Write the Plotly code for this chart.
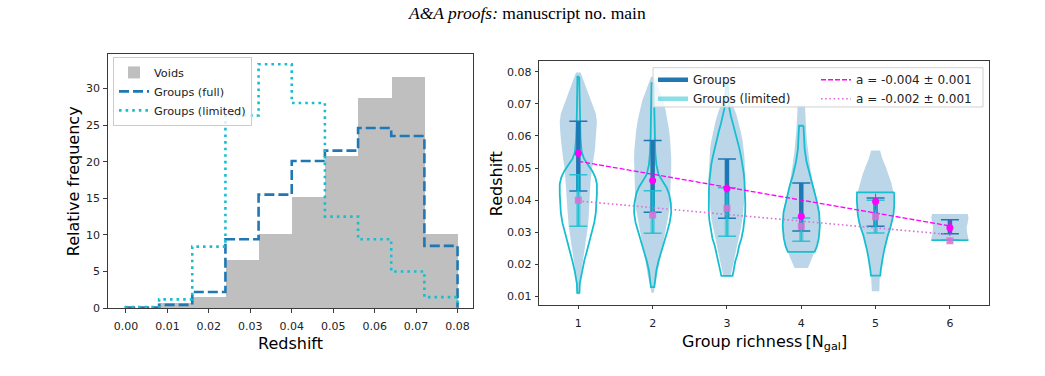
import numpy as np
import plotly.graph_objects as go

W, H = 1045, 376

# ---------------- Left panel: redshift histograms ----------------
bin_edges = [0.0, 0.008, 0.016, 0.024, 0.032, 0.040, 0.048, 0.056, 0.064, 0.072, 0.080]
voids_freq = [0.0, 0.7, 1.55, 6.6, 10.1, 15.2, 20.8, 28.7, 31.5, 10.1]
groups_full_freq = [0.1, 0.45, 2.2, 9.4, 15.5, 20.1, 21.5, 24.6, 23.5, 8.5]
groups_limited_freq = [0.15, 1.2, 8.4, 26.3, 33.3, 28.0, 12.5, 9.4, 5.0, 1.5]
hist_xticks = [0.00, 0.01, 0.02, 0.03, 0.04, 0.05, 0.06, 0.07, 0.08]
hist_yticks = [0, 5, 10, 15, 20, 25, 30]

# ---------------- Right panel: violins vs richness ----------------
richness = [1, 2, 3, 4, 5, 6]

full_violin_z = [
    [0.0798, 0.078, 0.0755, 0.073, 0.070, 0.067, 0.0645, 0.062, 0.059, 0.056, 0.053, 0.050, 0.047,
     0.044, 0.041, 0.038, 0.035, 0.032, 0.029, 0.026, 0.023, 0.020, 0.017, 0.014, 0.012, 0.0105],
    [0.0785, 0.076, 0.0735, 0.071, 0.068, 0.065, 0.062, 0.059, 0.056, 0.053, 0.050, 0.047, 0.044,
     0.041, 0.038, 0.035, 0.032, 0.029, 0.026, 0.023, 0.020, 0.017, 0.014, 0.012, 0.011],
    [0.0745, 0.072, 0.069, 0.0665, 0.064, 0.0614, 0.0585, 0.0563, 0.0535, 0.0513, 0.0485, 0.0462,
     0.0435, 0.0411, 0.0385, 0.036, 0.0335, 0.0309, 0.028, 0.0258, 0.023, 0.0207, 0.018, 0.0163],
    [0.0696, 0.066, 0.062, 0.058, 0.055, 0.052, 0.049, 0.046, 0.043, 0.040, 0.037, 0.034, 0.031,
     0.028, 0.025, 0.022, 0.020, 0.0188],
    [0.0555, 0.053, 0.0505, 0.048, 0.0455, 0.043, 0.0405, 0.038, 0.0355, 0.033, 0.0305, 0.028,
     0.0255, 0.023, 0.0205, 0.018, 0.015, 0.0115],
    [0.0356, 0.0345, 0.033, 0.0315, 0.030, 0.0288, 0.0277],
]
full_violin_hw = [
    [0.03, 0.06, 0.10, 0.14, 0.19, 0.235, 0.25, 0.245, 0.235, 0.225, 0.205, 0.185, 0.17, 0.16, 0.155,
     0.15, 0.14, 0.13, 0.115, 0.095, 0.075, 0.055, 0.04, 0.025, 0.015, 0.01],
    [0.02, 0.06, 0.10, 0.14, 0.175, 0.20, 0.22, 0.235, 0.245, 0.25, 0.25, 0.245, 0.24, 0.235, 0.23,
     0.21, 0.185, 0.16, 0.135, 0.115, 0.09, 0.07, 0.045, 0.025, 0.015],
    [0.02, 0.05, 0.09, 0.13, 0.16, 0.185, 0.21, 0.225, 0.235, 0.24, 0.245, 0.25, 0.245, 0.24, 0.23,
     0.22, 0.205, 0.185, 0.16, 0.14, 0.115, 0.09, 0.065, 0.05],
    [0.05, 0.055, 0.065, 0.078, 0.093, 0.11, 0.127, 0.15, 0.18, 0.215, 0.24, 0.25, 0.245, 0.23, 0.2,
     0.15, 0.115, 0.09],
    [0.06, 0.09, 0.135, 0.175, 0.21, 0.235, 0.245, 0.245, 0.24, 0.225, 0.19, 0.15, 0.12, 0.1, 0.08,
     0.065, 0.055, 0.05],
    [0.24, 0.25, 0.24, 0.225, 0.23, 0.245, 0.25],
]
lim_violin_z = [
    [0.0785, 0.076, 0.070, 0.064, 0.059, 0.055, 0.053, 0.051, 0.049, 0.047, 0.045, 0.042, 0.039,
     0.036, 0.033, 0.030, 0.027, 0.024, 0.021, 0.018, 0.016, 0.014, 0.011],
    [0.0765, 0.072, 0.066, 0.060, 0.055, 0.051, 0.048, 0.046, 0.044, 0.042, 0.039, 0.036, 0.033,
     0.030, 0.027, 0.024, 0.021, 0.018, 0.015, 0.0128],
    [0.0765, 0.072, 0.069, 0.0665, 0.064, 0.0614, 0.059, 0.0563, 0.0535, 0.0513, 0.0485, 0.0462,
     0.0435, 0.0411, 0.0385, 0.036, 0.0335, 0.0309, 0.028, 0.0258, 0.023, 0.0207, 0.018, 0.0163],
    [0.0632, 0.060, 0.056, 0.052, 0.048, 0.044, 0.040, 0.036, 0.032, 0.028, 0.0255, 0.0238],
    [0.0424, 0.040, 0.038, 0.0355, 0.033, 0.031, 0.029, 0.027, 0.0248, 0.0225, 0.0207, 0.0185, 0.0164],
    [0.0275, 0.0275],
]
lim_violin_hw = [
    [0.012, 0.015, 0.018, 0.022, 0.03, 0.045, 0.075, 0.13, 0.19, 0.23, 0.25, 0.25, 0.245, 0.235,
     0.215, 0.185, 0.15, 0.115, 0.08, 0.05, 0.03, 0.02, 0.015],
    [0.015, 0.018, 0.022, 0.027, 0.035, 0.05, 0.08, 0.13, 0.185, 0.22, 0.245, 0.25, 0.23, 0.195,
     0.155, 0.115, 0.08, 0.05, 0.03, 0.022],
    [0.01, 0.02, 0.03, 0.05, 0.08, 0.11, 0.14, 0.165, 0.19, 0.21, 0.225, 0.235, 0.242, 0.245, 0.247,
     0.245, 0.235, 0.22, 0.195, 0.165, 0.14, 0.11, 0.09, 0.075],
    [0.03, 0.033, 0.045, 0.07, 0.11, 0.16, 0.205, 0.24, 0.25, 0.235, 0.21, 0.18],
    [0.25, 0.252, 0.25, 0.24, 0.22, 0.195, 0.165, 0.14, 0.12, 0.1, 0.085, 0.072, 0.063],
    [0.25, 0.25],
]

full_bar_lo = [0.0428, 0.0362, 0.0343, 0.0303, 0.0318, 0.0295]
full_bar_hi = [0.0646, 0.0586, 0.0528, 0.0453, 0.0406, 0.0338]
lim_bar_lo = [0.0318, 0.0296, 0.0287, 0.0271, 0.0297, 0.0275]
lim_bar_hi = [0.0479, 0.0429, 0.0438, 0.0344, 0.0399, 0.0275]

mean_full = [0.0546, 0.0461, 0.0436, 0.0349, 0.0395, 0.0313]
mean_full_err = [0.0012, 0.0012, 0.0015, 0.002, 0.0025, 0.0025]
mean_lim = [0.0399, 0.0353, 0.0374, 0.0318, 0.0348, 0.0273]
mean_lim_err = [0.0008, 0.0008, 0.001, 0.0015, 0.0015, 0.0008]

fit_x = [1, 6]
fit_full_y = [0.0521, 0.0319]
fit_lim_y = [0.0397, 0.0292]
fit_full_label = "a = -0.004 ± 0.001"
fit_lim_label = "a = -0.002 ± 0.001"
violin_yticks = [0.01, 0.02, 0.03, 0.04, 0.05, 0.06, 0.07, 0.08]

# ---------------- colours ----------------
C_BLUE = "#1f77b4"
C_CYAN = "#17becf"
C_CYAN_A = "rgba(23,190,207,0.5)"
C_VIOLIN = "rgba(31,119,180,0.3)"
C_GREY = "rgba(128,128,128,0.5)"
C_MAG = "#ff00ff"
C_ORCHID = "#da70d6"
FONT = "DejaVu Sans"

fig = go.Figure()

# ---- histogram ----
edges = np.array(bin_edges)
centers = (edges[:-1] + edges[1:]) / 2
widths = np.diff(edges)
fig.add_trace(go.Bar(x=centers, y=voids_freq, width=widths, name="Voids",
                     marker=dict(color=C_GREY, line=dict(width=0)),
                     xaxis="x", yaxis="y", legend="legend"))


def step_xy(vals):
    xs = np.repeat(edges, 2)
    ys = np.concatenate([[0.0], np.repeat(np.array(vals, dtype=float), 2), [0.0]])
    return xs, ys


xs, ys = step_xy(groups_full_freq)
fig.add_trace(go.Scatter(x=xs, y=ys, mode="lines", name="Groups (full)",
                         line=dict(color=C_BLUE, width=2.6, dash="10px,4px"),
                         xaxis="x", yaxis="y", legend="legend"))
xs, ys = step_xy(groups_limited_freq)
fig.add_trace(go.Scatter(x=xs, y=ys, mode="lines", name="Groups (limited)",
                         line=dict(color=C_CYAN, width=2.6, dash="2.6px,4px"),
                         xaxis="x", yaxis="y", legend="legend"))

# ---- violins ----
def violin_xy(pos, z, hw):
    z = np.array(z, dtype=float)
    hw = np.array(hw, dtype=float)
    x = np.concatenate([pos + hw, (pos - hw)[::-1], [pos + hw[0]]])
    y = np.concatenate([z, z[::-1], [z[0]]])
    return x, y


for r, z, hw in zip(richness, full_violin_z, full_violin_hw):
    vx, vy = violin_xy(r, z, hw)
    fig.add_trace(go.Scatter(x=vx, y=vy, mode="lines", fill="toself", fillcolor=C_VIOLIN,
                             line=dict(width=0, color="rgba(0,0,0,0)"), showlegend=False,
                             hoverinfo="skip", xaxis="x2", yaxis="y2"))
for r, z, hw in zip(richness, lim_violin_z, lim_violin_hw):
    vx, vy = violin_xy(r, z, hw)
    fig.add_trace(go.Scatter(x=vx, y=vy, mode="lines", line=dict(width=1.8, color=C_CYAN),
                             showlegend=False, hoverinfo="skip", xaxis="x2", yaxis="y2"))


def stems(lo, hi):
    sx, sy = [], []
    for r, a, b in zip(richness, lo, hi):
        sx += [r, r, None]
        sy += [a, b, None]
    return sx, sy


# dark stems (Groups)
sx, sy = stems(full_bar_lo, full_bar_hi)
fig.add_trace(go.Scatter(x=sx, y=sy, mode="lines", name="Groups",
                         line=dict(color=C_BLUE, width=4.5), xaxis="x2", yaxis="y2",
                         legend="legend2"))
fig.add_trace(go.Scatter(x=richness, y=full_bar_lo, mode="markers",
                         marker=dict(size=1, color="rgba(0,0,0,0)"), showlegend=False,
                         error_y=dict(type="data", symmetric=False,
                                      array=list(np.array(full_bar_hi) - np.array(full_bar_lo)),
                                      arrayminus=[0] * len(richness), width=9, thickness=1.5,
                                      color=C_BLUE),
                         xaxis="x2", yaxis="y2"))
# light stems (Groups limited)
sx, sy = stems(lim_bar_lo, lim_bar_hi)
fig.add_trace(go.Scatter(x=sx, y=sy, mode="lines", name="Groups (limited)",
                         line=dict(color=C_CYAN_A, width=4.5), xaxis="x2", yaxis="y2",
                         legend="legend2"))
fig.add_trace(go.Scatter(x=richness, y=lim_bar_lo, mode="markers",
                         marker=dict(size=1, color="rgba(0,0,0,0)"), showlegend=False,
                         error_y=dict(type="data", symmetric=False,
                                      array=list(np.array(lim_bar_hi) - np.array(lim_bar_lo)),
                                      arrayminus=[0] * len(richness), width=9, thickness=1.5,
                                      color="rgba(23,190,207,0.85)"),
                         xaxis="x2", yaxis="y2"))

# fits
fig.add_trace(go.Scatter(x=fit_x, y=fit_full_y, mode="lines", name=fit_full_label,
                         line=dict(color=C_MAG, width=1.3, dash="5px,2px"),
                         xaxis="x2", yaxis="y2", legend="legend3"))
fig.add_trace(go.Scatter(x=fit_x, y=fit_lim_y, mode="lines", name=fit_lim_label,
                         line=dict(color=C_ORCHID, width=1.6, dash="1.6px,2.6px"),
                         xaxis="x2", yaxis="y2", legend="legend3"))

# means
fig.add_trace(go.Scatter(x=richness, y=mean_lim, mode="markers", showlegend=False,
                         marker=dict(symbol="square", size=7, color=C_ORCHID, opacity=0.85),
                         error_y=dict(type="data", array=mean_lim_err, width=0, thickness=1,
                                      color=C_ORCHID),
                         xaxis="x2", yaxis="y2"))
fig.add_trace(go.Scatter(x=richness, y=mean_full, mode="markers", showlegend=False,
                         marker=dict(symbol="circle", size=7, color=C_MAG),
                         error_y=dict(type="data", array=mean_full_err, width=0, thickness=1,
                                      color=C_MAG),
                         xaxis="x2", yaxis="y2"))


def px_x(v):
    return v / W


def px_y(v):
    return 1 - v / H


axis_common = dict(showline=True, mirror=True, linecolor="#3a3a3a", linewidth=1,
                   ticks="outside", ticklen=3.5, tickwidth=1, tickcolor="#3a3a3a",
                   showgrid=False, zeroline=False,
                   tickfont=dict(family=FONT, size=11, color="#222"))

fig.update_layout(
    width=W, height=H, margin=dict(l=0, r=0, t=0, b=0),
    paper_bgcolor="white", plot_bgcolor="white",
    xaxis=dict(domain=[px_x(107.7), px_x(473.3)], range=[-0.0044, 0.0838],
               tickvals=hist_xticks, ticktext=[f"{v:.2f}" for v in hist_xticks],
               anchor="y", ticklabelstandoff=4, **axis_common),
    yaxis=dict(domain=[px_y(314), px_y(55)], range=[0, 34.7], tickvals=hist_yticks,
               anchor="x", ticklabelstandoff=1, **axis_common),
    xaxis2=dict(domain=[px_x(539.3), px_x(989.3)], range=[0.475, 6.53], tickvals=richness,
                anchor="y2", ticklabelstandoff=5, **axis_common),
    yaxis2=dict(domain=[px_y(310.3), px_y(61.7)], range=[0.00736, 0.08356],
                tickvals=violin_yticks, ticktext=[f"{v:.2f}" for v in violin_yticks],
                anchor="x2", ticklabelstandoff=1, **axis_common),
    legend=dict(x=px_x(113), y=px_y(58), xanchor="left", yanchor="top",
                bgcolor="rgba(255,255,255,0.8)", bordercolor="#cccccc", borderwidth=1,
                font=dict(family=FONT, size=11.3, color="#222")),
    legend2=dict(x=px_x(653), y=px_y(66.5), xanchor="left", yanchor="top",
                 bgcolor="rgba(0,0,0,0)", borderwidth=0,
                 font=dict(family=FONT, size=12, color="#222")),
    legend3=dict(x=px_x(816), y=px_y(66.5), xanchor="left", yanchor="top",
                 bgcolor="rgba(0,0,0,0)", borderwidth=0,
                 font=dict(family=FONT, size=12, color="#222")),
    bargap=0,
    shapes=[dict(type="rect", xref="paper", yref="paper", x0=px_x(653), x1=px_x(983),
                 y0=px_y(109), y1=px_y(69), fillcolor="rgba(255,255,255,0.8)",
                 line=dict(color="#d0d0d0", width=1), layer="above")],
    annotations=[
        dict(text="<i>A&amp;A proofs:</i> manuscript no. main", x=px_x(527), y=px_y(13.5),
             xref="paper", yref="paper", showarrow=False, xanchor="center", yanchor="middle",
             font=dict(family="Liberation Serif", size=17.5, color="black")),
        dict(text="Relative frequency", x=px_x(73.7), y=px_y(185), xref="paper", yref="paper",
             showarrow=False, textangle=-90, xanchor="center", yanchor="middle",
             font=dict(family=FONT, size=16, color="black")),
        dict(text="Redshift", x=px_x(290.5), y=px_y(350), xref="paper", yref="paper",
             showarrow=False, xanchor="center", yanchor="middle",
             font=dict(family=FONT, size=16, color="black")),
        dict(text="Redshift", x=px_x(496.7), y=px_y(187), xref="paper", yref="paper",
             showarrow=False, textangle=-90, xanchor="center", yanchor="middle",
             font=dict(family=FONT, size=16, color="black")),
        dict(text="Group richness\u2009[N<sub>gal</sub>]", x=px_x(764), y=px_y(349),
             xref="paper", yref="paper", showarrow=False, xanchor="center", yanchor="middle",
             font=dict(family=FONT, size=16, color="black")),
    ],
)

fig.write_html("out.html")
